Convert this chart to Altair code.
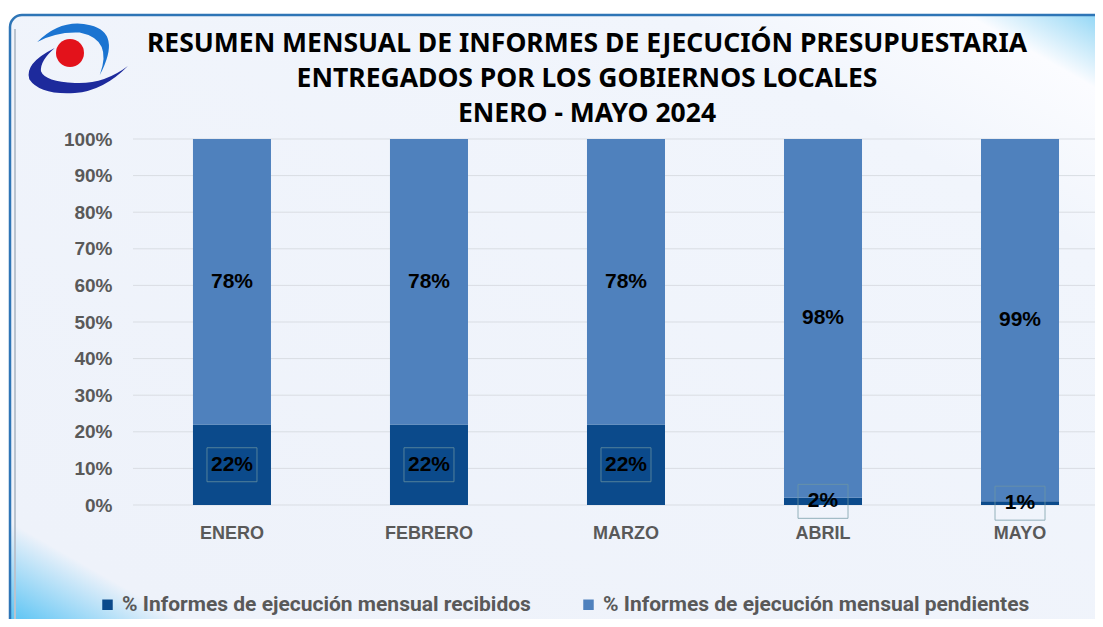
import altair as alt
import pandas as pd

# ---- data ----
months = ["ENERO", "FEBRERO", "MARZO", "ABRIL", "MAYO"]
recibidos = [0.22, 0.22, 0.22, 0.02, 0.01]
pendientes = [0.78, 0.78, 0.78, 0.98, 0.99]
series = ["% Informes de ejecución mensual recibidos",
          "% Informes de ejecución mensual pendientes"]
colors = ["#0b4a8b", "#4f81bd"]
y_ticks = [0, 0.1, 0.2, 0.3, 0.4, 0.5, 0.6, 0.7, 0.8, 0.9, 1.0]
title_lines = ["RESUMEN MENSUAL DE INFORMES DE EJECUCIÓN PRESUPUESTARIA",
               "ENTREGADOS POR LOS GOBIERNOS LOCALES",
               "ENERO - MAYO 2024"]

rows = []
for m, r, p in zip(months, recibidos, pendientes):
    rows.append({"month": m, "serie": series[0], "value": r, "start": 0.0, "end": r})
    rows.append({"month": m, "serie": series[1], "value": p, "start": r, "end": r + p})
df = pd.DataFrame(rows)
df["mid"] = (df["start"] + df["end"]) / 2
df["label"] = (df["value"] * 100).round().astype(int).astype(str) + "%"

W, H = 962, 366
AX_FONT = "Liberation Sans, Arial, sans-serif"

xscale = alt.Scale(domain=months, paddingInner=0.604, paddingOuter=0.2435, align=0.625)
yscale = alt.Scale(domain=[0, 1])

yaxis = alt.Axis(title=None, values=y_ticks, format=".0%", domain=False, zindex=1,
                 ticks=False, grid=False, labelFont=AX_FONT, labelFontSize=19,
                 labelFontWeight="bold", labelColor="#595959", labelPadding=21)
xaxis = alt.Axis(title=None, domain=False, ticks=False, labelAngle=0, zindex=1,
                 labelFont=AX_FONT, labelFontSize=18, labelFontWeight="bold",
                 labelColor="#595959", labelPadding=19)

base = alt.Chart(df)

gradient = {
    "gradient": "linear", "x1": 0, "y1": 1, "x2": 1, "y2": 0,
    "stops": [
        {"offset": 0.0, "color": "#2db6f2"},
        {"offset": 0.05, "color": "#8fd4f6"},
        {"offset": 0.1, "color": "#eef2fa"},
        {"offset": 0.8, "color": "#f1f5fc"},
        {"offset": 0.93, "color": "#fbfcff"},
        {"offset": 0.97, "color": "#b5e3f8"},
        {"offset": 1.0, "color": "#7ccff5"},
    ],
}
dummy = alt.Data(values=[{"k": 1}])

bg = alt.Chart(dummy).mark_rect(
    fill=gradient, stroke="#2e75b6", strokeWidth=2.5, cornerRadius=12
).encode(
    x=alt.value(-123), x2=alt.value(990), y=alt.value(-124), y2=alt.value(510)
)
inner_line = alt.Chart(dummy).mark_rule(color="#b9c3cf", strokeWidth=2).encode(
    x=alt.value(-118), y=alt.value(-110), y2=alt.value(490)
)

grid = alt.Chart(pd.DataFrame({"t": y_ticks})).mark_rule(
    color="#d9dde3", strokeWidth=1
).encode(
    y=alt.Y("t:Q", scale=yscale, axis=yaxis),
    x=alt.value(0), x2=alt.value(967),
)

bars = base.mark_bar().encode(
    x=alt.X("month:N", scale=xscale, sort=months, axis=xaxis),
    y=alt.Y("start:Q", scale=yscale, axis=yaxis),
    y2="end:Q",
    color=alt.Color("serie:N", scale=alt.Scale(domain=series, range=colors),
                    legend=alt.Legend(title=None, orient="none", direction="horizontal",
                                      legendX=-36, legendY=455, symbolType="square",
                                      symbolSize=110, symbolStrokeWidth=0, zindex=1,
                                      labelFont="Roboto, sans-serif",
                                      labelFontSize=21, labelColor="#595959",
                                      labelFontWeight="bold", columnPadding=47,
                                      labelLimit=600)),
)

rec = base.transform_filter(alt.datum.serie == series[0])

boxes = rec.mark_point(
    shape="M-1,-0.68L1,-0.68L1,0.68L-1,0.68Z", filled=False, size=2500,
    stroke="#6f97a3", strokeWidth=0.9, opacity=0.8
).encode(
    x=alt.X("month:N", scale=xscale, sort=months, axis=xaxis),
    y=alt.Y("mid:Q", scale=yscale, axis=yaxis),
)

labels = base.mark_text(
    font=AX_FONT, fontSize=21, fontWeight="bold", color="#000000"
).encode(
    x=alt.X("month:N", scale=xscale, sort=months, axis=xaxis),
    y=alt.Y("mid:Q", scale=yscale, axis=yaxis),
    text="label:N",
)

title = alt.Chart(dummy).mark_text(
    font="Noto Sans, Open Sans, sans-serif", fontSize=26.5, fontWeight="bold",
    color="#000000", lineHeight=35, baseline="alphabetic", align="center"
).encode(
    x=alt.value(454), y=alt.value(-87), text=alt.value(title_lines)
)

upper = "M-0.75,-0.30Q-0.3,-0.75 0.25,-0.62Q0.85,-0.48 0.43,0.32Q0.68,-0.35 0.05,-0.48Q-0.4,-0.5 -0.75,-0.30Z"
lower = ("M-0.42,-0.19Q-1.0,0.1 -0.9,0.4Q-0.7,0.7 -0.04,0.66Q0.5,0.62 0.96,0.15"
         "Q0.5,0.5 -0.04,0.47Q-0.6,0.45 -0.68,0.25Q-0.7,0.05 -0.42,-0.19Z")

logo_up = alt.Chart(dummy).mark_point(
    shape=upper, filled=True, size=11236, color="#1b74d1", opacity=1
).encode(x=alt.value(-56), y=alt.value(-81))
logo_low = alt.Chart(dummy).mark_point(
    shape=lower, filled=True, size=11236, color="#1d2a9c", opacity=1
).encode(x=alt.value(-56), y=alt.value(-81))
logo_dot = alt.Chart(dummy).mark_point(
    shape="circle", filled=True, size=784, color="#e3121b", opacity=1
).encode(x=alt.value(-63), y=alt.value(-86))

chart = alt.layer(
    bg, inner_line, grid, bars, boxes, labels, title, logo_up, logo_low, logo_dot
).properties(
    width=W, height=H,
    autosize=alt.AutoSizeParams(type="none"),
    padding={"left": 125, "top": 131, "right": 0, "bottom": 114},
    background="#ffffff",
).configure_view(strokeWidth=0)

chart.save("out.html", embed_options={"renderer": "svg", "actions": False})
